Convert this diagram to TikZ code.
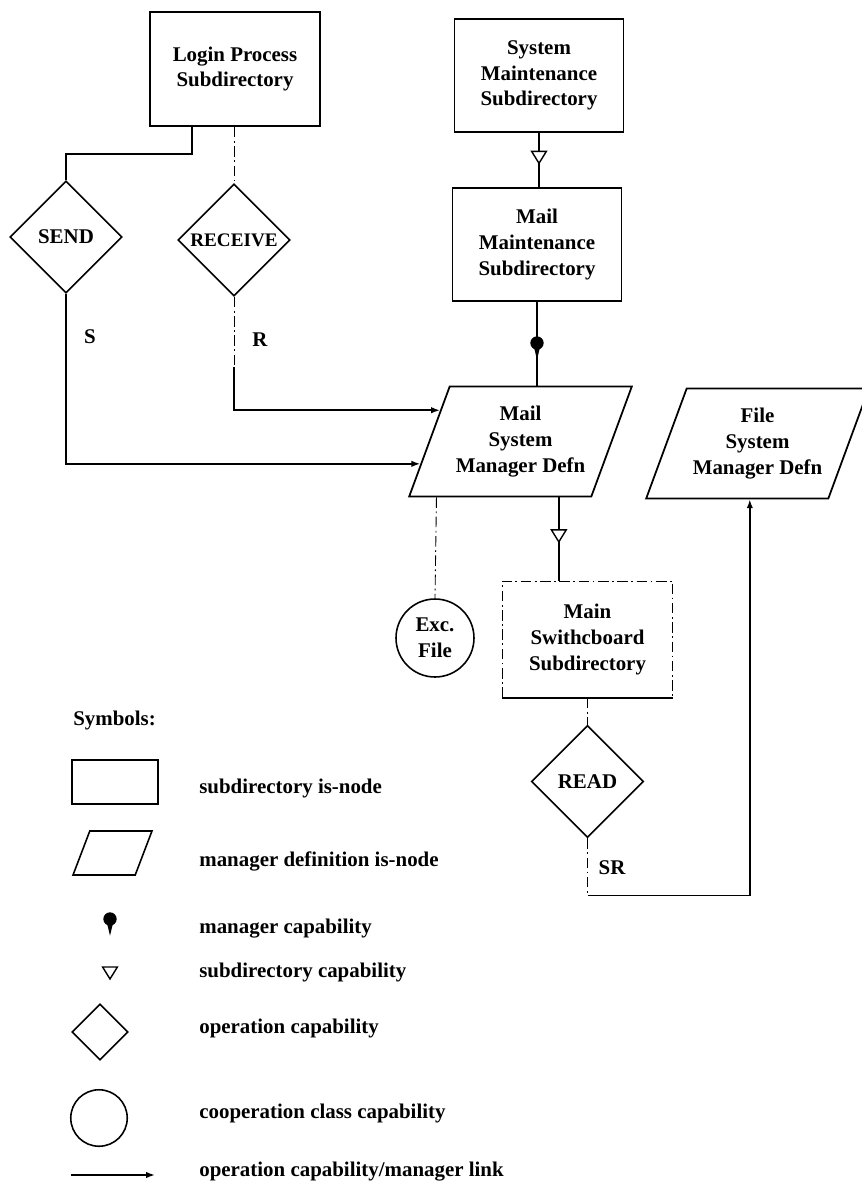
\documentclass[tikz,border=0pt]{standalone}
\usepackage{fontspec}
\setmainfont{Liberation Serif}
\usetikzlibrary{shapes.geometric,calc,arrows.meta}
\begin{document}
\begin{tikzpicture}[x=0.02cm,y=-0.02cm,
  every node/.style={font=\fontsize{11.9}{14.7}\selectfont\bfseries, align=center, inner sep=0pt},
  subdir/.style={draw, rectangle, line width=1pt, minimum width=3.38cm, minimum height=2.27cm},
  mgrdef/.style={draw, trapezium, line width=1pt, trapezium stretches=true,
    trapezium left angle=62.4, trapezium right angle=117.6,
    minimum width=4.46cm, minimum height=2.2cm},
  opcap/.style={draw, diamond, line width=0.9pt, minimum width=2.24cm, minimum height=2.24cm},
  coopcap/.style={draw, circle, line width=0.9pt, minimum size=1.56cm},
  link/.style={line width=0.9pt},
  oplink/.style={line width=0.9pt, -{Latex[length=5pt,width=3.6pt]}},
  faintlink/.style={line width=0.5pt, dash pattern=on 6pt off 2pt on 1pt off 2pt},
  mgrcap/.pic={
    \fill (0pt,0pt) circle[radius=3.8pt];
    \fill (-1.8pt,-2pt) -- (1.8pt,-2pt) -- (0pt,-9.5pt) -- cycle;
  },
  subcap/.pic={
    \draw[line width=0.8pt, fill=white] (-4.2pt,3.4pt) -- (4.2pt,3.4pt) -- (0pt,-3.4pt) -- cycle;
  }
]
\useasboundingbox (0,0) rectangle (862,1184);

% subdirectory and manager definition nodes
\node[subdir, minimum width=3.4cm, minimum height=2.28cm] (login) at (235,69) {Login Process\\Subdirectory};
\node[subdir] (sysm) at (539,75.5) {System\\Maintenance\\Subdirectory};
\node[subdir] (mailm) at (537,244.5) {Mail\\Maintenance\\Subdirectory};
\node[mgrdef] (msm) at (520.5,441.5) {Mail\\System\\Manager Defn};
\node[mgrdef] (fsm) at (757.5,443.5) {File\\System\\Manager Defn};
\node[subdir, draw=none, minimum width=3.38cm, minimum height=2.3cm] (sw) at (587.5,639.5) {Main\\Swithcboard\\Subdirectory};
\draw[faintlink, line width=0.7pt] (sw.south west) -- (sw.north west) -- (sw.north east) -- (sw.south east);
\draw[line width=1pt] (sw.south west) -- (sw.south east);

% operation capabilities
\node[opcap] (send) at (66,237) {SEND};
\node[opcap] (rcv) at (234,240) {\fontsize{10.9}{14}\selectfont RECEIVE};
\node[opcap] (read) at (587.5,781.5) {READ};
\node[coopcap] (exc) at (435,638) {Exc.\\File};

% login process links
\coordinate (lsOut) at ($(login.south west)!0.25!(login.south east)$);
\draw[link] (lsOut) -- ++(0,27) -| (send.north);
\draw[faintlink] (login.south -| rcv.north) -- (rcv.north);

% operation links into the mail system manager
\coordinate (sEnd) at ($(msm.top left corner)!0.7!(msm.bottom left corner)$);
\coordinate (rEnd) at ($(msm.top left corner)!0.22!(msm.bottom left corner)$);
\draw[oplink] (send.south) -- (send.south |- sEnd) -- (sEnd);
\coordinate (rKnee) at (rcv.south |- rEnd);
\coordinate (rMid) at ($(rKnee)+(0,-43)$);
\draw[faintlink] (rcv.south) -- (rMid);
\draw[oplink] (rMid) -- (rKnee) -- (rEnd);
\node at (90,337) {S};
\node at (260,340) {R};

% subdirectory capabilities
\draw[link] (sysm.south) -- (sysm.south |- mailm.north);
\pic at ($(sysm.south)!0.45!(sysm.south |- mailm.north)$) {subcap};
\coordinate (mTop) at (mailm.south |- msm.north);
\draw[link] (mailm.south) -- (mTop);
\pic at ($(mailm.south)!0.49!(mTop)$) {mgrcap};
\coordinate (mStub) at ($(msm.bottom left corner)!0.82!(msm.bottom right corner)$);
\draw[link] (mStub) -- (mStub |- sw.north);
\pic at ($(mStub)!0.46!(mStub |- sw.north)$) {subcap};

% cooperation class
\coordinate (eStub) at ($(msm.bottom left corner)!0.155!(msm.bottom right corner)$);
\draw[faintlink] (eStub) -- (exc.north);

% switchboard read link to the file system manager
\draw[faintlink] (sw.south -| read.north) -- (read.north);
\coordinate (srKnee) at ($(read.south)+(0,57)$);
\coordinate (fIn) at ($(fsm.bottom left corner)!0.57!(fsm.bottom right corner)$);
\draw[faintlink] (read.south) -- (srKnee);
\draw[oplink] (srKnee) -| (fIn);
\node at (612,868) {SR};

% symbol key
\node[anchor=west] (key) at (73,720) {Symbols:};
\node[draw, rectangle, line width=0.9pt, minimum width=1.72cm, minimum height=0.88cm] (kSub) at (115,782) {};
\node[anchor=west] (tSub) at (199,788) {subdirectory is-node};
\node[draw, trapezium, line width=0.9pt, trapezium stretches=true,
  trapezium left angle=62, trapezium right angle=118,
  minimum width=1.58cm, minimum height=0.88cm] (kMgr) at (112.5,853) {\phantom{M}};
\node[anchor=west] (tMgr) at (199,861) {manager definition is-node};
\pic at (110,919) {mgrcap};
\node[anchor=west] (tMcap) at (199,929) {manager capability};
\pic at (110,973) {subcap};
\node[anchor=west] (tScap) at (199,972) {subdirectory capability};
\node[opcap, minimum width=1.12cm, minimum height=1.12cm] (kOp) at (100,1032) {};
\node[anchor=west] (tOp) at (199,1028) {operation capability};
\node[coopcap, minimum size=1.13cm] (kCoop) at (99,1118) {};
\node[anchor=west] (tCoop) at (199,1113) {cooperation class capability};
\coordinate (kLa) at (71,1175);
\coordinate (kLb) at (155,1175);
\draw[oplink] (kLa) -- (kLb);
\node[anchor=west] (tLink) at (199,1172) {operation capability/manager link};
\end{tikzpicture}
\end{document}
